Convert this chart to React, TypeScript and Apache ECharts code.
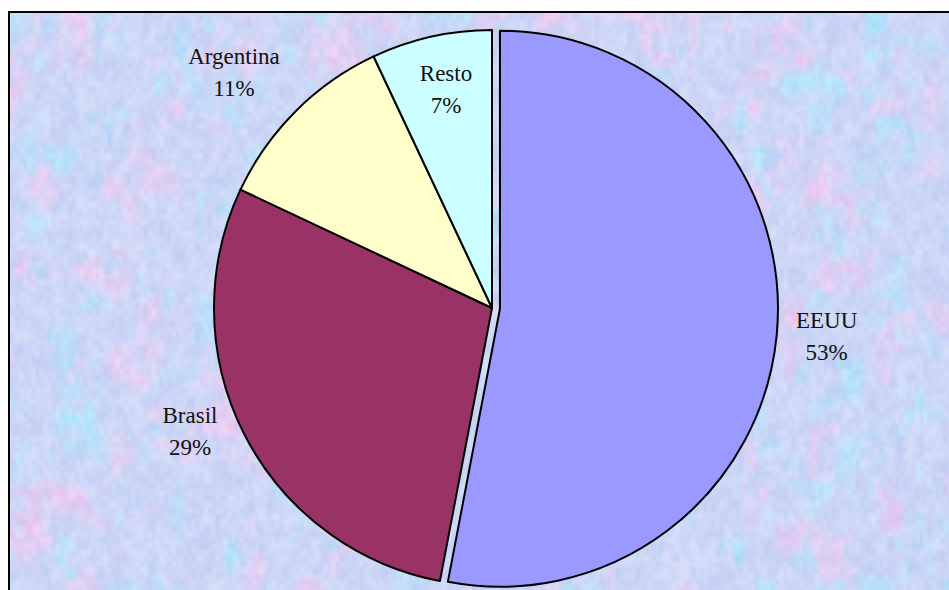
import React, { useEffect, useRef } from "react";
import * as echarts from "echarts";

const countries = ["EEUU", "Brasil", "Argentina", "Resto"];
const shares = [53, 29, 11, 7];
const sliceColors = ["#9999ff", "#993366", "#ffffcc", "#ccffff"];
// label anchor points (centre of each two-line label)
const labelSpots: [number, number][] = [
  [818, 342],
  [190, 431],
  [234, 72],
  [446, 89],
];

const W = 949;
const H = 590;
const SERIF = "Liberation Serif";

function hash(x: number, y: number, s: number): number {
  let h = (x * 374761393 + y * 668265263 + s * 982451653) | 0;
  h = Math.imul(h ^ (h >>> 13), 1274126177);
  h = h ^ (h >>> 16);
  return ((h >>> 0) % 10000) / 10000;
}

function smooth(t: number) {
  return t * t * (3 - 2 * t);
}

function valueNoise(x: number, y: number, sx: number, sy: number, seed: number) {
  const fx = x / sx;
  const fy = y / sy;
  const x0 = Math.floor(fx);
  const y0 = Math.floor(fy);
  const tx = smooth(fx - x0);
  const ty = smooth(fy - y0);
  const a = hash(x0, y0, seed);
  const b = hash(x0 + 1, y0, seed);
  const c = hash(x0, y0 + 1, seed);
  const d = hash(x0 + 1, y0 + 1, seed);
  return (a * (1 - tx) + b * tx) * (1 - ty) + (c * (1 - tx) + d * tx) * ty;
}

// mottled pastel paper texture for the plot backdrop
function makeTexture(): string {
  const cv = document.createElement("canvas");
  cv.width = W;
  cv.height = H;
  const ctx = cv.getContext("2d")!;
  const img = ctx.createImageData(W, H);
  for (let y = 0; y < H; y++) {
    for (let x = 0; x < W; x++) {
      const grain =
        valueNoise(x, y, 4, 6, 3) * 0.5 + valueNoise(x, y, 9, 13, 6) * 0.5;
      const pinkN =
        valueNoise(x, y, 34, 44, 1) * 0.6 + valueNoise(x, y, 12, 16, 2) * 0.4;
      const cyanN =
        valueNoise(x, y, 28, 36, 4) * 0.6 + valueNoise(x, y, 10, 14, 5) * 0.4;
      const pink = Math.max(0, pinkN - 0.58) * 2.4;
      const cyan = Math.max(0, cyanN - 0.56) * 2.4;
      let r = 204 + (grain - 0.5) * 26;
      let g = 214 + (grain - 0.5) * 22;
      let b = 246 + (grain - 0.5) * 8;
      r += pink * 38;
      g -= pink * 14;
      b -= pink * 6;
      r -= cyan * 30;
      g += cyan * 16;
      b += cyan * 6;
      const i = (y * W + x) * 4;
      img.data[i] = Math.max(0, Math.min(255, r));
      img.data[i + 1] = Math.max(0, Math.min(255, g));
      img.data[i + 2] = Math.max(0, Math.min(255, b));
      img.data[i + 3] = 255;
    }
  }
  ctx.putImageData(img, 0, 0);
  return cv.toDataURL("image/png");
}

export default function App() {
  const ref = useRef<HTMLDivElement>(null);

  useEffect(() => {
    if (!ref.current) return;
    const chart = echarts.init(ref.current, undefined, { renderer: "svg" });
    const texture = makeTexture();

    chart.setOption({
      animation: false,
      backgroundColor: "#ffffff",
      textStyle: { fontFamily: SERIF },
      graphic: [
        {
          type: "image",
          left: 9,
          top: 12,
          z: -10,
          style: { image: texture, x: 0, y: 0, width: W, height: H },
        },
        {
          type: "rect",
          z: -5,
          shape: { x: 9, y: 12, width: W + 10, height: H + 10 },
          style: { fill: "none", stroke: "#000000", lineWidth: 2 },
        },
      ],
      series: [
        {
          type: "pie",
          center: [492, 308],
          radius: 278,
          startAngle: 90,
          clockwise: true,
          selectedMode: "single",
          selectedOffset: 8,
          emphasis: { disabled: true },
          itemStyle: { borderColor: "#000000", borderWidth: 2 },
          label: {
            show: true,
            position: "outside",
            formatter: "{b}\n{d}%",
            fontFamily: SERIF,
            fontSize: 23,
            lineHeight: 32,
            color: "#111111",
            align: "center",
          },
          labelLine: { show: false },
          labelLayout: (p: any) => {
            const s = labelSpots[p.dataIndex];
            return { x: s[0], y: s[1], align: "center", verticalAlign: "middle" };
          },
          data: countries.map((name, i) => ({
            name,
            value: shares[i],
            selected: i === 0,
            itemStyle: { color: sliceColors[i] },
          })),
        },
      ],
    });

    return () => chart.dispose();
  }, []);

  return (
    <div
      ref={ref}
      style={{ position: "fixed", left: 0, top: 0, width: W, height: H }}
    />
  );
}
